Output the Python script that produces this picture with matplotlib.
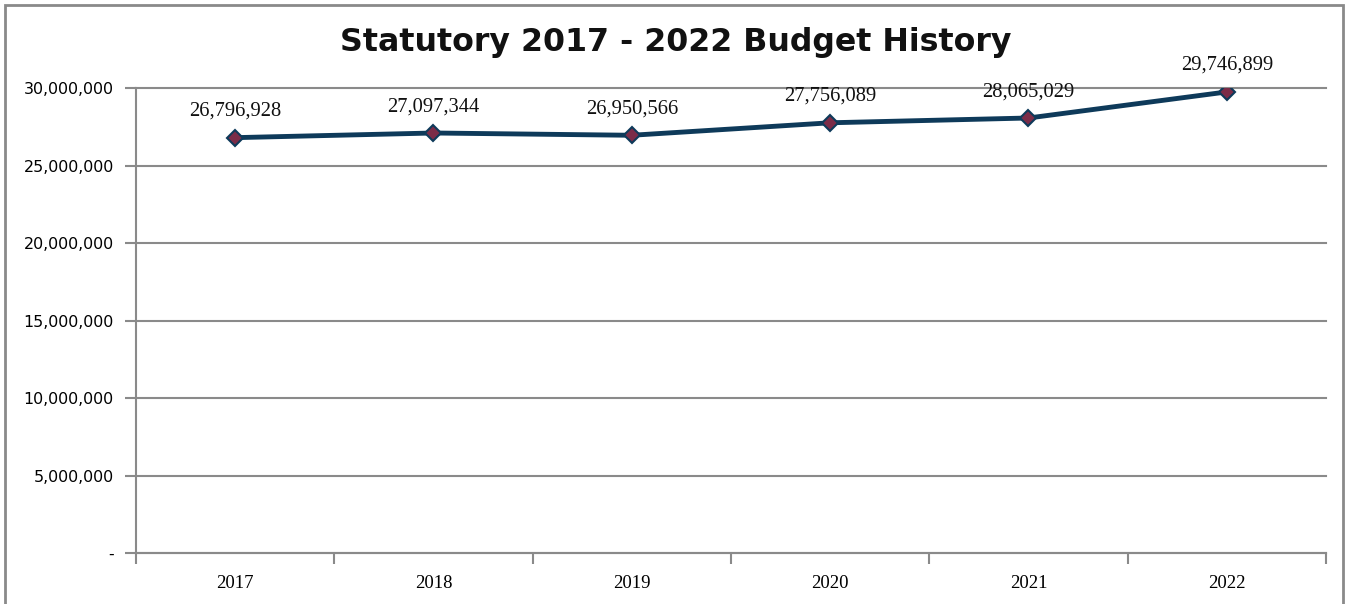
import matplotlib.pyplot as plt
from matplotlib.patches import Rectangle
from matplotlib.ticker import FuncFormatter, FixedLocator

years = ['2017', '2018', '2019', '2020', '2021', '2022']
budget = [26796928, 27097344, 26950566, 27756089, 28065029, 29746899]
y_ticks = [0, 5000000, 10000000, 15000000, 20000000, 25000000, 30000000]

fig = plt.figure(figsize=(13.5, 6.04), dpi=100)
ax = fig.add_axes([0.1007, 0.0844, 0.8815, 0.7699])

# outer chart frame (bottom edge runs off the image)
frame = Rectangle((5 / 1350, -0.05), 1338 / 1350, 1 - 5 / 604 + 0.05,
                  transform=fig.transFigure, fill=False, edgecolor='#8a8a8a',
                  linewidth=2, clip_on=False)
fig.patches.append(frame)

x = list(range(len(years)))
ax.plot(x, budget, color='#0e3a5a', linewidth=3.5, marker='D', markersize=8.5,
        markerfacecolor='#7b2c48', markeredgecolor='#0e3a5a', markeredgewidth=1.5,
        zorder=3)

for xi, v in zip(x, budget):
    ax.annotate(f'{v:,}', (xi, v), xytext=(0, 19), textcoords='offset points',
                ha='center', va='center', fontsize=14.8, family='Liberation Serif',
                color='#111111')

ax.set_xlim(-0.5, len(years) - 0.5)
ax.set_ylim(0, 30000000)
ax.set_yticks(y_ticks)
ax.yaxis.set_major_formatter(FuncFormatter(lambda v, p: '-' if v == 0 else f'{int(v):,}'))
ax.set_xticks(x)
ax.set_xticklabels(years, family='Liberation Serif', fontsize=13.5)
ax.xaxis.set_minor_locator(FixedLocator([i - 0.5 for i in range(len(years) + 1)]))

ax.tick_params(axis='x', which='major', length=0, pad=16)
ax.tick_params(axis='x', which='minor', length=8, width=1.5, color='#8a8a8a')
ax.tick_params(axis='y', length=8, width=1.5, color='#8a8a8a', pad=8, labelsize=11.4)

ax.grid(axis='y', color='#8a8a8a', linewidth=1.5)
for gl in ax.get_ygridlines():
    gl.set_clip_on(False)
ax.set_axisbelow(True)
for s in ['top', 'right']:
    ax.spines[s].set_visible(False)
for s in ['left', 'bottom']:
    ax.spines[s].set_color('#8a8a8a')
    ax.spines[s].set_linewidth(1.5)

fig.text(0.5007, 1 - 43 / 604, 'Statutory 2017 - 2022 Budget History', ha='center',
         va='center', fontsize=22.8, fontweight='bold', color='#111111')

fig.savefig('out.png', dpi=100)
